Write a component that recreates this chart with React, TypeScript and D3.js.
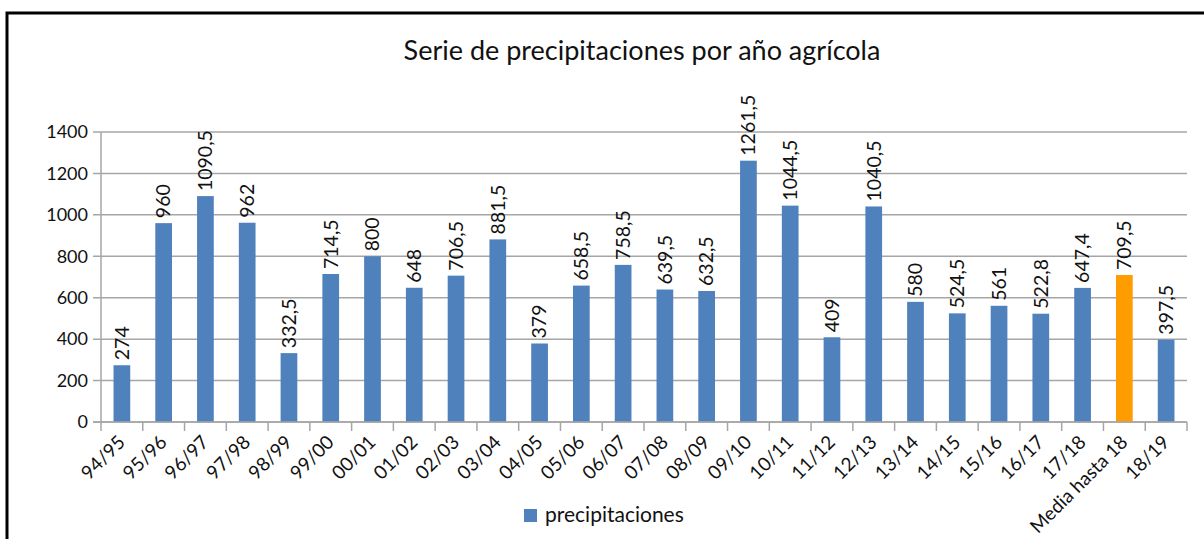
import React, { useEffect, useRef } from "react";
import * as d3 from "d3";

const categories = ["94/95","95/96","96/97","97/98","98/99","99/00","00/01","01/02","02/03","03/04","04/05","05/06","06/07","07/08","08/09","09/10","10/11","11/12","12/13","13/14","14/15","15/16","16/17","17/18","Media hasta 18","18/19"];
const values = [274,960,1090.5,962,332.5,714.5,800,648,706.5,881.5,379,658.5,758.5,639.5,632.5,1261.5,1044.5,409,1040.5,580,524.5,561,522.8,647.4,709.5,397.5];
const highlight = ["Media hasta 18"];
const yTicks = [0,200,400,600,800,1000,1200,1400];
const title = "Serie de precipitaciones por año agrícola";
const seriesName = "precipitaciones";

const W = 1204, H = 539;
const FONT = "Lato, 'Open Sans', sans-serif";
const BLUE = "#4f81bd";
const ORANGE = "#ff9c00";
const TXT = "#111";

export default function App() {
  const ref = useRef<SVGSVGElement>(null);
  useEffect(() => {
    const svg = d3.select(ref.current);
    svg.selectAll("*").remove();
    const left = 101, right = 1187, top = 132, bottom = 422;
    const x = d3.scaleBand().domain(categories).range([left, right]).paddingInner(0.6).paddingOuter(0.3);
    const band = d3.scaleBand().domain(categories).range([left, right]);
    const y = d3.scaleLinear().domain([0, 1400]).range([bottom, top]);

    svg.append("rect").attr("x", 7).attr("y", 13).attr("width", 1300).attr("height", 600)
      .attr("fill", "white").attr("stroke", "#000").attr("stroke-width", 3);

    svg.append("text").attr("x", 642).attr("y", 60).attr("text-anchor", "middle")
      .attr("font-family", FONT).attr("font-size", 27).attr("fill", TXT).text(title);

    const g = svg.append("g");
    yTicks.forEach(t => {
      g.append("line").attr("x1", left - 8).attr("x2", right).attr("y1", y(t)).attr("y2", y(t))
        .attr("stroke", "#a6a6a6").attr("stroke-width", 1.5);
      g.append("text").attr("x", left - 13).attr("y", y(t)).attr("dy", "0.35em").attr("text-anchor", "end")
        .attr("font-family", FONT).attr("font-size", 18).attr("fill", TXT).text(String(t));
    });
    g.append("line").attr("x1", left).attr("x2", left).attr("y1", top).attr("y2", bottom)
      .attr("stroke", "#a6a6a6").attr("stroke-width", 1.5);
    for (let i = 0; i <= categories.length; i++) {
      const xx = left + i * band.step();
      g.append("line").attr("x1", xx).attr("x2", xx).attr("y1", bottom).attr("y2", bottom + 9)
        .attr("stroke", "#a6a6a6").attr("stroke-width", 1.5);
    }

    categories.forEach((c, i) => {
      const v = values[i];
      svg.append("rect").attr("x", x(c)!).attr("y", y(v)).attr("width", x.bandwidth()).attr("height", y(0) - y(v))
        .attr("fill", highlight.includes(c) ? ORANGE : BLUE);
      const cx = x(c)! + x.bandwidth() / 2;
      svg.append("text").attr("transform", `translate(${cx},${y(v) - 5}) rotate(-90)`)
        .attr("dy", "0.35em").attr("font-family", FONT).attr("font-size", 19.5).attr("fill", TXT)
        .text(String(v).replace(".", ","));
      svg.append("text").attr("transform", `translate(${cx - 5},${bottom + 12}) rotate(-45)`)
        .attr("dy", "0.7em").attr("text-anchor", "end").attr("font-family", FONT).attr("font-size", 19).attr("fill", TXT)
        .text(c);
    });
    svg.append("line").attr("x1", left - 8).attr("x2", right).attr("y1", bottom).attr("y2", bottom)
      .attr("stroke", "#a6a6a6").attr("stroke-width", 1.5);

    svg.append("rect").attr("x", 524).attr("y", 509).attr("width", 13).attr("height", 13).attr("fill", BLUE);
    svg.append("text").attr("x", 545).attr("y", 522).attr("font-family", FONT).attr("font-size", 21).attr("fill", TXT).text(seriesName);
  }, []);
  return <svg ref={ref} width={W} height={H} style={{ position: "absolute", left: 0, top: 0, background: "white" }} />;
}
